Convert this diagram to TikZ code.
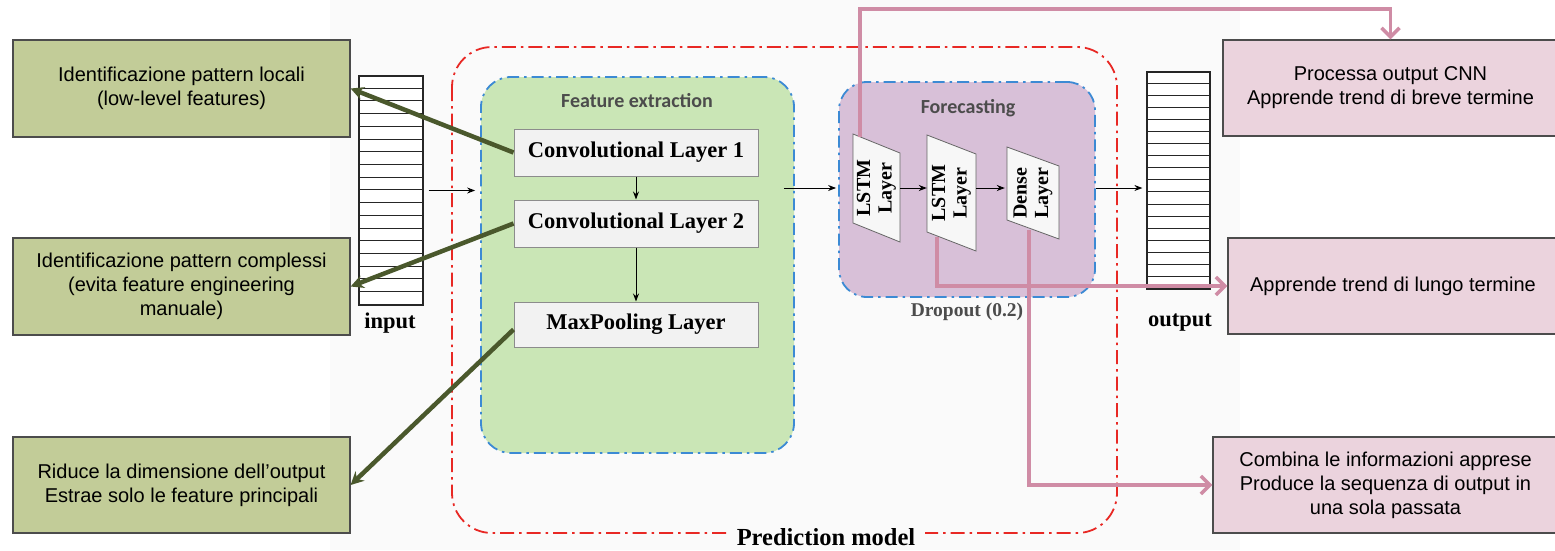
\documentclass[tikz,border=0pt]{standalone}
\usepackage{fontspec}
\setmainfont{Liberation Serif}
\setsansfont{Liberation Sans}
\newfontfamily\titlefont{Carlito}
\usetikzlibrary{arrows.meta}

\definecolor{notegreen}{RGB}{194,204,152}
\definecolor{notepink}{RGB}{235,211,221}
\definecolor{featgreen}{RGB}{202,230,182}
\definecolor{castpurple}{RGB}{216,192,216}
\definecolor{boxblue}{RGB}{60,138,212}
\definecolor{predred}{RGB}{232,40,36}
\definecolor{linkpink}{RGB}{207,140,165}
\definecolor{linkgreen}{RGB}{74,88,44}
\definecolor{paper}{RGB}{250,250,250}

\tikzset{
    note/.style={draw=black!70, line width=1.2pt, align=center, inner sep=0pt,
        font=\sffamily\fontsize{20}{24}\selectfont},
    container/.style={draw=boxblue, line width=1.8pt, rounded corners=30pt,
        dash pattern=on 12pt off 5pt on 2.5pt off 5pt},
    layerbox/.style={draw=black!45, fill=black!5, line width=1pt,
        minimum width=244pt, minimum height=47pt,
        font=\bfseries\fontsize{22.5}{26}\selectfont},
    slant/.style={draw=black!60, fill=black!3, line width=0.8pt},
    slanttext/.style={rotate=90, align=center, inner sep=0pt,
        font=\bfseries\fontsize{20}{21.5}\selectfont},
    stack/.style={draw=black!85, line width=1.2pt, fill=white, inner sep=0pt},
    flow/.style={-{Stealth[length=8pt,width=6pt]}, line width=1pt, black},
    olive/.style={-{Stealth[length=13pt,width=13pt]}, line width=4.5pt, linkgreen},
    rose/.style={-{Straight Barb[length=9pt,width=18pt]}, line width=3.5pt, linkpink}
}

\begin{document}
\begin{tikzpicture}[x=1pt, y=-1pt]
    \newcommand{\rownum}{18}
    \newcommand{\slantlayer}[6]{%
        \draw[slant] (#2-#4/2, #3-#5/2-9.5) -- (#2+#4/2, #3-#5/2+9.5)
            -- (#2+#4/2, #3+#5/2+9.5) -- (#2-#4/2, #3+#5/2-9.5) -- cycle;
        \node[inner sep=0pt, minimum width=#4pt, minimum height=#5pt] (#1) at (#2, #3) {};
        \node[slanttext] (#1-text) at (#1) {#6};
    }
    \useasboundingbox (0, 0) rectangle (1555, 550);
    \fill[paper] (330, 0) rectangle (1240, 550);

    % Prediction model
    \draw[predred, line width=1.8pt, rounded corners=40pt,
        dash pattern=on 14pt off 5pt on 2.5pt off 5pt] (452, 47) rectangle (1117, 533);
    \node[fill=paper, inner xsep=10pt, inner ysep=1pt, font=\bfseries\fontsize{24.5}{28}\selectfont]
        (Pred) at (826, 537) {Prediction model};

    % Feature extraction
    \node[container, fill=featgreen, minimum width=313pt, minimum height=376pt] (Feature) at (637.5, 265) {};
    \node[text=black!70, font=\titlefont\bfseries\fontsize{20}{22}\selectfont] (Feature-title) at (637, 101) {Feature extraction};
    \node[layerbox] (Conv-1) at (636, 152.5) {Convolutional Layer 1};
    \node[layerbox] (Conv-2) at (636, 223.5) {Convolutional Layer 2};
    \node[layerbox, minimum height=45pt] (Pool) at (636, 324.5) {MaxPooling Layer};

    % Forecasting
    \node[container, rounded corners=28pt, fill=castpurple, minimum width=256pt, minimum height=215pt] (Forecast) at (967, 189.5) {};
    \node[text=black!70, font=\titlefont\bfseries\fontsize{20}{22}\selectfont] (Forecast-title) at (968, 108) {Forecasting};
    \node[text=black!70, font=\bfseries\fontsize{19.5}{22}\selectfont] (Dropout) at (967, 312) {Dropout (0.2)};
    \slantlayer{LSTM-1}{876.5}{188}{47}{89}{LSTM\\Layer}
    \slantlayer{LSTM-2}{951.5}{193}{49}{97}{LSTM\\Layer}
    \slantlayer{Dense}{1033}{193}{52}{73}{Dense\\Layer}

    % Input and output sequences
    \node[stack, minimum width=64pt, minimum height=229pt] (Input) at (391, 190.5) {};
    \foreach \i in {1, ..., 17} {
            \draw[black!85, line width=1pt] (Input.north west) ++(0, \i*229/\rownum) -- ++(64, 0);
        }
    \node[font=\bfseries\fontsize{22.5}{26}\selectfont] (Input-label) at (390, 323) {input};
    \node[stack, minimum width=63pt, minimum height=217pt] (Output) at (1178.5, 180.5) {};
    \foreach \i in {1, ..., 17} {
            \draw[black!85, line width=1pt] (Output.north west) ++(0, \i*217/\rownum) -- ++(63, 0);
        }
    \node[font=\bfseries\fontsize{22.5}{26}\selectfont] (Output-label) at (1180, 323) {output};

    % Notes
    \node[note, fill=notegreen, minimum width=337pt, minimum height=97pt] (Note-1) at (181.5, 88.5)
        {Identificazione pattern locali\\(low-level features)};
    \node[note, fill=notegreen, minimum width=337pt, minimum height=97pt] (Note-2) at (181.5, 286.5)
        {Identificazione pattern complessi\\(evita feature engineering\\manuale)};
    \node[note, fill=notegreen, minimum width=337pt, minimum height=96pt] (Note-3) at (181.5, 485)
        {Riduce la dimensione dell'output\\Estrae solo le feature principali};
    \node[note, fill=notepink, minimum width=335pt, minimum height=96pt] (Note-4) at (1390.5, 88)
        {Processa output CNN\\Apprende trend di breve termine};
    \node[note, fill=notepink, minimum width=330pt, minimum height=96pt] (Note-5) at (1393, 286)
        {Apprende trend di lungo termine};
    \node[note, fill=notepink, minimum width=345pt, minimum height=96pt] (Note-6) at (1385.5, 485)
        {Combina le informazioni apprese\\Produce la sequenza di output in\\una sola passata};

    % Data flow
    \draw[flow, shorten <=5pt, shorten >=5pt] (Input.east) -- (Feature.west |- Input.east);
    \draw[flow] (Conv-1) -- (Conv-2);
    \draw[flow] (Conv-2) -- (Pool);
    \draw[flow, shorten <=-11pt, shorten >=2pt] (Feature.east |- LSTM-1.east) -- (Forecast.west |- LSTM-1.east);
    \draw[flow] (LSTM-1.east) -- (LSTM-1.east -| LSTM-2.west);
    \draw[flow, shorten >=2pt] (LSTM-2.east |- LSTM-1.east) -- (LSTM-1.east -| Dense.west);
    \draw[flow, shorten >=4pt] (Forecast.east |- LSTM-1.east) -- (LSTM-1.east -| Output.west);

    % Annotations
    \draw[olive] (Conv-1.west) -- (Note-1.east);
    \draw[olive] (Conv-2.west) -- (Note-2.east);
    \draw[olive] ([yshift=-5pt]Pool.west) -- (Note-3.east);
    \coordinate (Top-turn) at (0, 9);
    \draw[rose] ([xshift=7pt, yshift=6pt]LSTM-1.north west) |- (Top-turn -| Note-4.north) -- (Note-4.north);
    \draw[rose] ([xshift=10pt, yshift=5pt]LSTM-2.south west) |- (Note-5.west);
    \draw[rose] ([xshift=-4pt]Dense.south) |- (Note-6.west);
\end{tikzpicture}
\end{document}
